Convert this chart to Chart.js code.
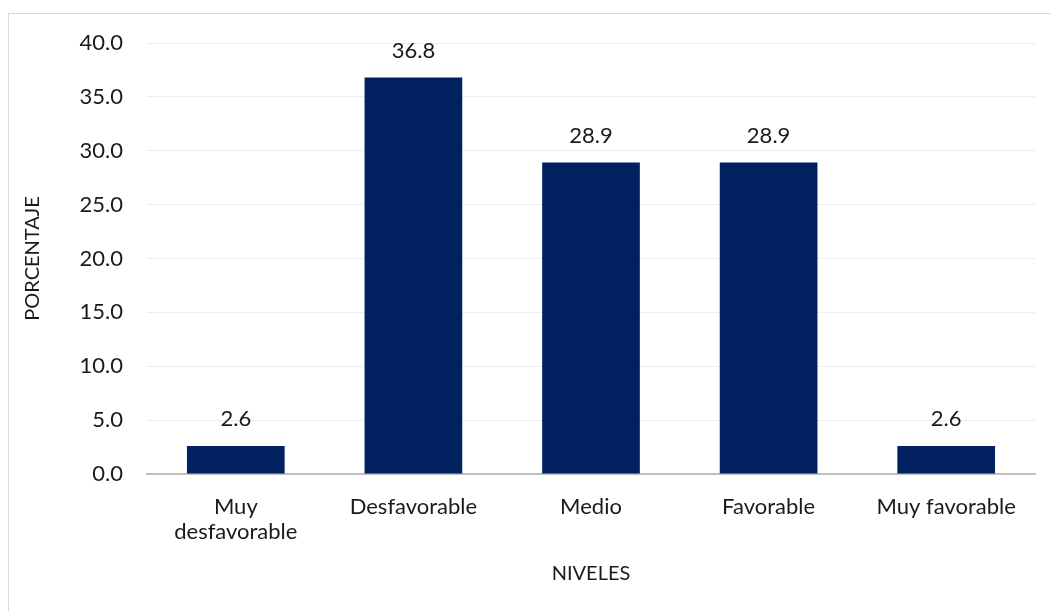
<!DOCTYPE html>
<html>
<head>
<meta charset="utf-8">
<script src="https://cdn.jsdelivr.net/npm/chart.js@4.4.0/dist/chart.umd.min.js"></script>
<style>
  html, body { margin: 0; padding: 0; background: #fff; }
  #wrap { position: relative; width: 1051px; height: 611px; }
</style>
</head>
<body>
<div id="wrap"><canvas id="grafico"></canvas></div>
<script>
// datos del gráfico
const niveles = [['Muy', 'desfavorable'], 'Desfavorable', 'Medio', 'Favorable', 'Muy favorable'];
const porcentajes = [2.6, 36.8, 28.9, 28.9, 2.6];
const ticksY = [0, 5, 10, 15, 20, 25, 30, 35, 40];

const fuente = "Lato, 'Noto Sans', sans-serif";

// marco gris del gráfico
const marco = {
    id: 'marco',
    beforeDraw(chart) {
        const ctx = chart.ctx;
        ctx.save();
        ctx.strokeStyle = '#d9d9d9';
        ctx.lineWidth = 1;
        ctx.beginPath();
        ctx.moveTo(8.5, chart.height);
        ctx.lineTo(8.5, 13.5);
        ctx.lineTo(chart.width, 13.5);
        ctx.stroke();
        ctx.restore();
    }
};

// etiquetas de valor encima de las barras
const etiquetas = {
    id: 'etiquetas',
    afterDatasetsDraw(chart) {
        const ctx = chart.ctx;
        const meta = chart.getDatasetMeta(0);
        ctx.save();
        ctx.font = '22px ' + fuente;
        ctx.fillStyle = '#1a1a1a';
        ctx.textAlign = 'center';
        ctx.textBaseline = 'middle';
        meta.data.forEach((barra, i) => {
            ctx.fillText(porcentajes[i].toFixed(1), barra.x, barra.y - 27);
        });
        ctx.restore();
    }
};

const ctx = document.getElementById('grafico').getContext('2d');
new Chart(ctx, {
    type: 'bar',
    data: {
        labels: niveles,
        datasets: [{
            data: porcentajes,
            backgroundColor: '#002060',
            barPercentage: 0.55,
            categoryPercentage: 1
        }]
    },
    options: {
        responsive: true,
        maintainAspectRatio: false,
        animation: false,
        layout: { padding: { left: 8, top: 43, right: 16, bottom: 0 } },
        plugins: {
            legend: { display: false },
            tooltip: { enabled: false }
        },
        scales: {
            x: {
                grid: { display: false },
                border: { color: '#bfbfbf', width: 2 },
                ticks: {
                    color: '#1a1a1a',
                    font: { family: fuente, size: 22, lineHeight: 1.12 },
                    padding: 13,
                    maxRotation: 0
                },
                title: {
                    display: true,
                    text: 'NIVELES',
                    color: '#1a1a1a',
                    font: { family: fuente, size: 20 },
                    padding: { top: 0, bottom: 25 }
                },
                afterFit(scale) { scale.height = 137; }
            },
            y: {
                min: 0,
                max: 40,
                afterBuildTicks(scale) { scale.ticks = ticksY.map(v => ({ value: v })); },
                grid: { color: '#ededed', drawTicks: false },
                border: { display: false },
                ticks: {
                    color: '#1a1a1a',
                    font: { family: fuente, size: 22 },
                    padding: 24,
                    callback: v => v.toFixed(1)
                },
                title: {
                    display: true,
                    text: 'PORCENTAJE',
                    color: '#1a1a1a',
                    font: { family: fuente, size: 20 },
                    padding: { top: 13, bottom: 0 }
                },
                afterFit(scale) { scale.width = 139; }
            }
        }
    },
    plugins: [marco, etiquetas]
});
</script>
</body>
</html>
